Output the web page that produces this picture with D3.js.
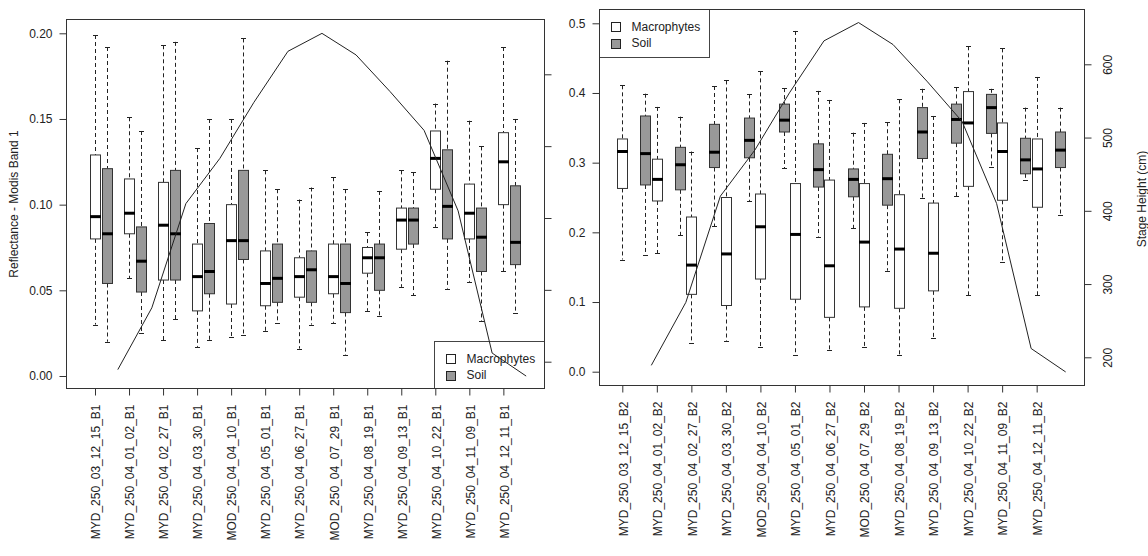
<!DOCTYPE html>
<html>
<head>
<meta charset="utf-8">
<script src="https://cdn.jsdelivr.net/npm/d3@7"></script>
<style>
body { margin: 0; background: #fff; }
svg text { font-family: "Liberation Sans", Arial, sans-serif; fill: #222; font-size: 12px; }
</style>
</head>
<body>
<div id="chart"></div>
<script>
// acquisition dates (band suffix added per panel)
var dates = ["MYD_250_03_12_15", "MYD_250_04_01_02", "MYD_250_04_02_27", "MYD_250_04_03_30",
  "MOD_250_04_04_10", "MYD_250_04_05_01", "MYD_250_04_06_27", "MOD_250_04_07_29",
  "MYD_250_04_08_19", "MYD_250_04_09_13", "MYD_250_04_10_22", "MYD_250_04_11_09",
  "MYD_250_04_12_11"];

// stage height (cm) for each date
var stageHeight = [189, 275, 420, 483, 561, 632, 657, 627, 576, 522, 410, 212, 180];
var stageTicks = [200, 300, 400, 500, 600];

// five number summaries: [lower whisker, q1, median, q3, upper whisker]
var b1Macrophytes = [
  [0.030, 0.080, 0.093, 0.129, 0.199], [0.057, 0.083, 0.095, 0.115, 0.151],
  [0.021, 0.056, 0.088, 0.113, 0.193], [0.017, 0.038, 0.058, 0.077, 0.133],
  [0.023, 0.042, 0.079, 0.100, 0.150], [0.026, 0.041, 0.054, 0.073, 0.120],
  [0.016, 0.046, 0.058, 0.069, 0.103], [0.031, 0.048, 0.058, 0.077, 0.116],
  [0.038, 0.060, 0.069, 0.075, 0.084], [0.052, 0.074, 0.091, 0.098, 0.120],
  [0.087, 0.109, 0.127, 0.143, 0.159], [0.055, 0.080, 0.095, 0.112, 0.149],
  [0.061, 0.100, 0.125, 0.142, 0.192]];
var b1Soil = [
  [0.020, 0.054, 0.083, 0.121, 0.192], [0.025, 0.049, 0.067, 0.087, 0.143],
  [0.033, 0.056, 0.083, 0.120, 0.195], [0.021, 0.048, 0.061, 0.089, 0.150],
  [0.024, 0.068, 0.079, 0.120, 0.197], [0.031, 0.043, 0.057, 0.077, 0.109],
  [0.030, 0.043, 0.062, 0.073, 0.110], [0.012, 0.037, 0.054, 0.077, 0.109],
  [0.035, 0.050, 0.069, 0.077, 0.108], [0.047, 0.077, 0.091, 0.098, 0.119],
  [0.051, 0.080, 0.099, 0.132, 0.184], [0.032, 0.061, 0.081, 0.098, 0.134],
  [0.037, 0.065, 0.078, 0.111, 0.150]];
var b2Macrophytes = [
  [0.161, 0.263, 0.316, 0.334, 0.411], [0.170, 0.245, 0.276, 0.305, 0.380],
  [0.041, 0.111, 0.153, 0.222, 0.316], [0.044, 0.095, 0.169, 0.250, 0.418],
  [0.035, 0.133, 0.208, 0.255, 0.431], [0.024, 0.104, 0.197, 0.270, 0.489],
  [0.031, 0.078, 0.152, 0.275, 0.390], [0.035, 0.093, 0.186, 0.270, 0.357],
  [0.024, 0.091, 0.176, 0.254, 0.391], [0.048, 0.116, 0.170, 0.242, 0.367],
  [0.110, 0.266, 0.357, 0.402, 0.467], [0.158, 0.246, 0.316, 0.357, 0.464],
  [0.110, 0.236, 0.291, 0.334, 0.423]];
var b2Soil = [
  [0.168, 0.268, 0.313, 0.367, 0.399], [0.196, 0.261, 0.297, 0.322, 0.366],
  [0.209, 0.293, 0.315, 0.355, 0.410], [0.245, 0.307, 0.332, 0.364, 0.398],
  [0.292, 0.344, 0.361, 0.384, 0.407], [0.194, 0.265, 0.290, 0.327, 0.403],
  [0.206, 0.251, 0.276, 0.291, 0.343], [0.145, 0.239, 0.277, 0.312, 0.358],
  [0.249, 0.306, 0.344, 0.379, 0.406], [0.252, 0.328, 0.362, 0.384, 0.408],
  [0.294, 0.342, 0.379, 0.398, 0.406], [0.275, 0.284, 0.304, 0.335, 0.379],
  [0.225, 0.293, 0.318, 0.344, 0.379]];

var b1Ticks = [0, 0.05, 0.10, 0.15, 0.20];
var b2Ticks = [0, 0.1, 0.2, 0.3, 0.4, 0.5];
var groups = ["Macrophytes", "Soil"];
var fills = ["#ffffff", "#999999"];

var svg = d3.select("#chart").append("svg")
    .attr("width", 1148)
    .attr("height", 556);

function drawPanel(p) {
    var g = svg.append("g");
    var x = d3.scaleLinear().domain([1, 13]).range([p.firstTick, p.firstTick + 12 * p.step]);
    var y = d3.scaleLinear().domain([0, p.yTicks[p.yTicks.length - 1]]).range(p.yRange);
    var s = d3.scaleLinear().domain([200, 600]).range(p.stageRange);
    var boxW = 10;

    // boxes
    p.series.forEach(function (series, k) {
        var shift = k === 0 ? 0 : p.soilShift;
        var bx = g.append("g").selectAll("g")
            .data(series.map(function (d, i) { return { pos: i + 1 + shift, v: d }; }))
            .enter().append("g");

        bx.append("line")
            .attr("x1", function (d) { return Math.round(x(d.pos)) + 0.5; })
            .attr("x2", function (d) { return Math.round(x(d.pos)) + 0.5; })
            .attr("y1", function (d) { return y(d.v[4]); })
            .attr("y2", function (d) { return y(d.v[3]); })
            .style("stroke", "#222").style("stroke-dasharray", "4,3");
        bx.append("line")
            .attr("x1", function (d) { return Math.round(x(d.pos)) + 0.5; })
            .attr("x2", function (d) { return Math.round(x(d.pos)) + 0.5; })
            .attr("y1", function (d) { return y(d.v[1]); })
            .attr("y2", function (d) { return y(d.v[0]); })
            .style("stroke", "#222").style("stroke-dasharray", "4,3");
        [0, 4].forEach(function (j) {
            bx.append("line")
                .attr("x1", function (d) { return Math.round(x(d.pos)) - 2; })
                .attr("x2", function (d) { return Math.round(x(d.pos)) + 3; })
                .attr("y1", function (d) { return Math.round(y(d.v[j])) + 0.5; })
                .attr("y2", function (d) { return Math.round(y(d.v[j])) + 0.5; })
                .style("stroke", "#222");
        });
        bx.append("rect")
            .attr("x", function (d) { return Math.round(x(d.pos)) - boxW / 2 + 0.5; })
            .attr("y", function (d) { return y(d.v[3]); })
            .attr("width", boxW)
            .attr("height", function (d) { return y(d.v[1]) - y(d.v[3]); })
            .style("fill", fills[k])
            .style("stroke", "#333");
        bx.append("line")
            .attr("x1", function (d) { return Math.round(x(d.pos)) - boxW / 2; })
            .attr("x2", function (d) { return Math.round(x(d.pos)) + boxW / 2 + 1; })
            .attr("y1", function (d) { return y(d.v[2]); })
            .attr("y2", function (d) { return y(d.v[2]); })
            .style("stroke", "#000").style("stroke-width", 3);
    });

    // axes
    var ax = g.append("g")
        .attr("transform", "translate(" + p.x0 + ",0)")
        .call(d3.axisLeft(y).tickValues(p.yTicks).tickFormat(d3.format(p.fmt)).tickSize(7).tickPadding(7));
    var bx = g.append("g")
        .attr("transform", "translate(0," + p.y1 + ")")
        .call(d3.axisBottom(x).tickValues(d3.range(1, 14))
            .tickFormat(function (d) { return dates[d - 1] + p.band; }).tickSize(7));
    bx.selectAll("text")
        .attr("transform", "rotate(-90)")
        .attr("x", -16).attr("y", 0).attr("dy", "0.4em")
        .style("text-anchor", "end");
    var sx = g.append("g")
        .attr("transform", "translate(" + p.x1 + ",0)")
        .call(d3.axisRight(s).tickValues(stageTicks).tickSize(7)
            .tickFormat(p.stageLabels ? d3.format("d") : ""));
    sx.selectAll("text")
        .attr("x", null).attr("dy", null)
        .attr("transform", "translate(27,0) rotate(-90)")
        .style("text-anchor", "middle");
    [ax, bx, sx].forEach(function (a) {
        a.select(".domain").remove();
        a.selectAll("line").style("stroke", "#333");
        a.selectAll("text").style("font-family", null).style("font-size", null).attr("fill", "#222");
        a.attr("font-family", null).attr("font-size", null);
    });

    // legend
    var lg = g.append("g");
    lg.append("rect")
        .attr("x", p.legend.x).attr("y", p.legend.y)
        .attr("width", p.legend.w).attr("height", p.legend.h)
        .style("fill", "#fff").style("stroke", "#444");
    groups.forEach(function (name, k) {
        var cy = p.legend.y + 17 + k * 16.5;
        lg.append("rect")
            .attr("x", p.legend.x + 12).attr("y", Math.round(cy - 4.5) + 0.5)
            .attr("width", 9).attr("height", 9)
            .style("fill", fills[k]).style("stroke", "#222");
        lg.append("text")
            .attr("x", p.legend.x + 32).attr("y", cy).attr("dy", "0.36em")
            .text(name);
    });

    // frame
    g.append("rect")
        .attr("x", p.x0).attr("y", p.y0)
        .attr("width", p.x1 - p.x0).attr("height", p.y1 - p.y0)
        .style("fill", "none").style("stroke", "#333");

    // stage height line
    var line = d3.line()
        .x(function (d, i) { return x(i + 1 + p.lineShift); })
        .y(function (d) { return s(d); });
    g.append("path")
        .datum(stageHeight)
        .attr("d", line)
        .style("fill", "none").style("stroke", "#222").style("stroke-width", 1);
}

drawPanel({
    band: "_B1", series: [b1Macrophytes, b1Soil],
    x0: 66.5, x1: 544.5, y0: 19.5, y1: 388.5,
    firstTick: 95, step: 34.03, soilShift: 0.34, lineShift: 0.67,
    yTicks: b1Ticks, fmt: ".2f", yRange: [376, 33.3],
    stageRange: [361.7, 74.3], stageLabels: false,
    legend: { x: 434.5, y: 341.5, w: 110, h: 47 }
});
drawPanel({
    band: "_B2", series: [b2Macrophytes, b2Soil],
    x0: 599.5, x1: 1084.5, y0: 9.5, y1: 385.5,
    firstTick: 622.3, step: 34.53, soilShift: 0.67, lineShift: 0.84,
    yTicks: b2Ticks, fmt: ".1f", yRange: [371.7, 23.3],
    stageRange: [357.3, 64.3], stageLabels: true,
    legend: { x: 599.5, y: 9.5, w: 110, h: 48 }
});

svg.append("text")
    .attr("transform", "translate(18,204) rotate(-90)")
    .style("text-anchor", "middle")
    .text("Reflectance - Modis Band 1");
svg.append("text")
    .attr("transform", "translate(1146,199) rotate(-90)")
    .style("text-anchor", "middle")
    .text("Stage Height (cm)");
</script>
</body>
</html>
